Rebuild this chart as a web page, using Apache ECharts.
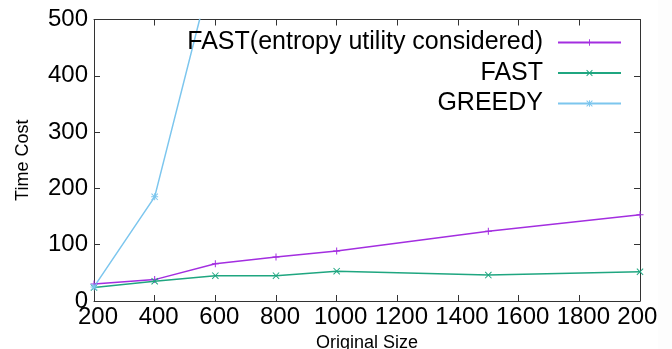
<!DOCTYPE html>
<html>
<head>
<meta charset="utf-8">
<script src="https://cdn.jsdelivr.net/npm/echarts@6/dist/echarts.min.js"></script>
<style>
  html, body { margin: 0; padding: 0; background: #fff; }
  #chart { width: 672px; height: 349px; }
</style>
</head>
<body>
<div id="chart"></div>
<script>
// Problem sizes on the x axis
const sizes = [200, 400, 600, 800, 1000, 1500, 2000];
const greedySizes = [200, 400, 600];

// Running time of each method
const fastEntropy = [30, 38, 66, 78, 89, 124, 153];
const fast = [24, 35, 45, 45, 53, 46, 52];
const greedy = [25, 185, 610];

const seriesNames = ['FAST(entropy utility considered)', 'FAST', 'GREEDY'];

// Point markers, drawn as thin filled strokes
const plusMark = 'path://M3,0H4V7H3Z M0,3H7V4H0Z';
const crossMark = 'path://M0,0.7L0.7,0L7,6.3L6.3,7Z M6.3,0L7,0.7L0.7,7L0,6.3Z';
const starMark = 'path://M3,0H4V7H3Z M0,3H7V4H0Z M0,0.7L0.7,0L7,6.3L6.3,7Z M6.3,0L7,0.7L0.7,7L0,6.3Z';

const font = 'Liberation Sans';
const axisColor = '#333';

function pairs(xs, ys) {
  return xs.map((x, i) => [x, ys[i]]);
}

function lineSeries(name, xs, ys, color, symbol) {
  return {
    name: name,
    type: 'line',
    data: pairs(xs, ys),
    symbol: symbol,
    symbolSize: 7,
    showAllSymbol: true,
    clip: true,
    lineStyle: { color: color, width: 1.5 },
    itemStyle: { color: color },
    emphasis: { disabled: true },
    animation: false
  };
}

const plainNumber = v => String(v);

const chart = echarts.init(document.getElementById('chart'), null, { renderer: 'canvas' });

chart.setOption({
  backgroundColor: '#ffffff',
  animation: false,
  textStyle: { fontFamily: font },
  grid: { left: 94, right: 32, top: 19.5, bottom: 48, show: false, outerBoundsMode: 'none', containLabel: false },
  // the drawing area ends a little before the page edge
  graphic: [{
    type: 'rect',
    right: 0,
    top: 0,
    z: 100,
    shape: { width: 14, height: 349 },
    style: { fill: '#fdfdfd' },
    silent: true
  }],
  legend: {
    orient: 'vertical',
    right: 45,
    top: 25,
    align: 'right',
    itemWidth: 63,
    itemHeight: 8,
    itemGap: 5.5,
    selectedMode: false,
    textStyle: { fontFamily: font, fontSize: 25, color: '#000', padding: [0, 10, 0, 0] },
    data: seriesNames
  },
  xAxis: [
    {
      type: 'value',
      min: 200,
      max: 2000,
      interval: 200,
      position: 'bottom',
      name: 'Original Size',
      nameLocation: 'middle',
      nameGap: 30,
      nameTextStyle: { fontFamily: font, fontSize: 18, color: '#000' },
      axisLine: { show: true, onZero: false, lineStyle: { color: axisColor, width: 1 } },
      axisTick: { show: true, inside: true, length: 6, lineStyle: { color: axisColor } },
      axisLabel: { show: true, margin: 4, padding: [0, 0, 0, 8], fontFamily: font, fontSize: 24, color: '#000', formatter: plainNumber, hideOverlap: false, showMinLabel: true, showMaxLabel: true },
      splitLine: { show: false }
    },
    {
      type: 'value',
      min: 200,
      max: 2000,
      interval: 200,
      position: 'top',
      axisLine: { show: true, onZero: false, lineStyle: { color: axisColor, width: 1 } },
      axisTick: { show: true, inside: true, length: 6, lineStyle: { color: axisColor } },
      axisLabel: { show: false },
      splitLine: { show: false }
    }
  ],
  yAxis: [
    {
      type: 'value',
      min: 0,
      max: 500,
      interval: 100,
      position: 'left',
      name: 'Time Cost',
      nameLocation: 'middle',
      nameGap: 62,
      nameRotate: 90,
      nameTextStyle: { fontFamily: font, fontSize: 18, color: '#000' },
      axisLine: { show: true, onZero: false, lineStyle: { color: axisColor, width: 1 } },
      axisTick: { show: true, inside: true, length: 6, lineStyle: { color: axisColor } },
      axisLabel: { show: true, margin: 6, fontFamily: font, fontSize: 24, color: '#000', formatter: plainNumber },
      splitLine: { show: false }
    },
    {
      type: 'value',
      min: 0,
      max: 500,
      interval: 100,
      position: 'right',
      axisLine: { show: true, onZero: false, lineStyle: { color: axisColor, width: 1 } },
      axisTick: { show: true, inside: true, length: 6, lineStyle: { color: axisColor } },
      axisLabel: { show: false },
      splitLine: { show: false }
    }
  ],
  series: [
    lineSeries(seriesNames[0], sizes, fastEntropy, '#a32ee0', plusMark),
    lineSeries(seriesNames[1], sizes, fast, '#1fa680', crossMark),
    lineSeries(seriesNames[2], greedySizes, greedy, '#7cc6ee', starMark)
  ]
});
</script>
</body>
</html>
